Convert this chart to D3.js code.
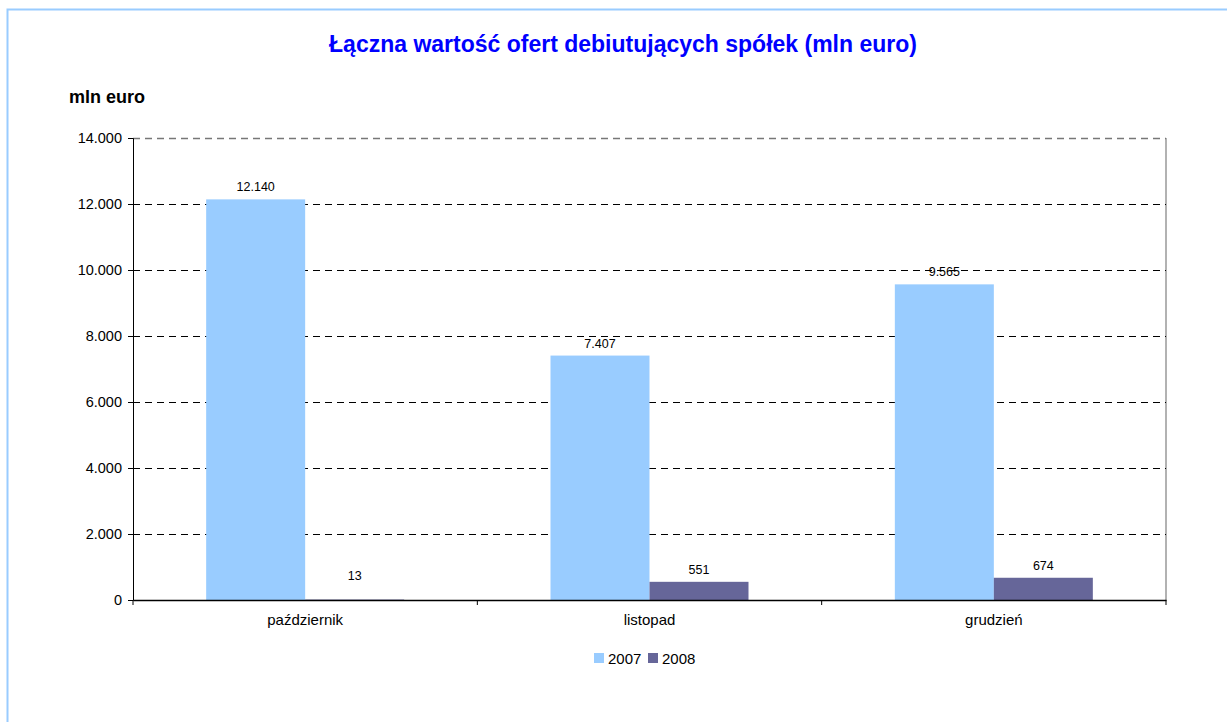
<!DOCTYPE html>
<html>
<head>
<meta charset="utf-8">
<script src="https://cdn.jsdelivr.net/npm/d3@7"></script>
<style>
  body { margin: 0; background: #fff; font-family: Arial, "Liberation Sans", sans-serif; }
</style>
</head>
<body>
<script>
// chart data
var months = ["październik", "listopad", "grudzień"];
var years = ["2007", "2008"];
var values2007 = [12140, 7407, 9565];
var values2008 = [13, 551, 674];
var yTicks = [0, 2000, 4000, 6000, 8000, 10000, 12000, 14000];
var colors = ["#99CCFF", "#666699"];

var w = 1227, h = 722;
var plotLeft = 133, plotRight = 1166, plotTop = 138, plotBottom = 600;

var svg = d3.select("body").append("svg")
    .attr("width", w)
    .attr("height", h);

// outer frame
svg.append("rect")
    .attr("x", 7.5).attr("y", 9.5)
    .attr("width", w).attr("height", h)
    .attr("fill", "none")
    .attr("stroke", "#99CCFF")
    .attr("stroke-width", 2);

// title
svg.append("text")
    .attr("x", 623).attr("y", 52)
    .attr("text-anchor", "middle")
    .attr("font-size", 23).attr("font-weight", "bold")
    .attr("fill", "#0000FF")
    .text("Łączna wartość ofert debiutujących spółek (mln euro)");

svg.append("text")
    .attr("x", 69).attr("y", 103)
    .attr("font-size", 18).attr("font-weight", "bold")
    .text("mln euro");

// scales
var x = d3.scaleBand().domain(months).range([plotLeft, plotRight]);
var xInner = d3.scaleBand().domain(years).range([0, 198]);
var y = d3.scaleLinear().domain([0, 14000]).range([plotBottom, plotTop]);

var fmt = function(v) { return d3.format(",")(v).replace(/,/g, "."); };

// plot border (grey)
svg.append("line")
    .attr("x1", plotRight).attr("x2", plotRight)
    .attr("y1", plotTop).attr("y2", plotBottom)
    .attr("stroke", "#999").attr("stroke-width", 1.5);

// gridlines
svg.selectAll(".grid")
    .data(yTicks.filter(function(d) { return d > 0; }))
    .enter().append("line")
    .attr("x1", plotLeft).attr("x2", plotRight)
    .attr("y1", function(d) { return Math.round(y(d)) + 0.5; })
    .attr("y2", function(d) { return Math.round(y(d)) + 0.5; })
    .attr("stroke", function(d) { return d === 14000 ? "#777" : "#000"; })
    .attr("stroke-width", function(d) { return d === 14000 ? 1.5 : 1; })
    .attr("stroke-dasharray", "7,5");

// bars
var series = [values2007, values2008];
years.forEach(function(yr, s) {
    var gap = (x.bandwidth() - 198) / 2;
    svg.selectAll(".bar" + yr)
        .data(series[s])
        .enter().append("rect")
        .attr("x", function(d, i) { return x(months[i]) + gap + xInner(yr); })
        .attr("y", function(d) { return y(d); })
        .attr("width", xInner.bandwidth())
        .attr("height", function(d) { return plotBottom - y(d); })
        .attr("fill", colors[s]);

    svg.selectAll(".lab" + yr)
        .data(series[s])
        .enter().append("text")
        .attr("x", function(d, i) { return x(months[i]) + gap + xInner(yr) + xInner.bandwidth() / 2; })
        .attr("y", function(d) { return Math.min(y(d), plotBottom - 12) - 8; })
        .attr("text-anchor", "middle")
        .attr("font-size", 12.5)
        .text(function(d) { return fmt(d); });
});

// y axis
var yAxis = d3.axisLeft(y).tickValues(yTicks).tickSize(5).tickPadding(6).tickFormat(fmt);
var gy = svg.append("g")
    .attr("transform", "translate(" + plotLeft + ",0)")
    .call(yAxis);
gy.select(".domain").attr("stroke", "#000");
gy.selectAll("text").attr("font-size", 14.5).attr("font-family", "Arial, 'Liberation Sans', sans-serif").attr("fill", "#000");

// x axis
var xAxis = d3.axisBottom(x).tickSize(0).tickPadding(14);
var gx = svg.append("g")
    .attr("transform", "translate(0," + plotBottom + ")")
    .call(xAxis);
gx.select(".domain").attr("stroke", "#000").attr("stroke-width", 1.5);
gx.selectAll("text").attr("font-size", 15).attr("font-family", "Arial, 'Liberation Sans', sans-serif").attr("fill", "#000");

// category boundary ticks
svg.selectAll(".xtick")
    .data([0, 1, 2, 3])
    .enter().append("line")
    .attr("x1", function(d) { return plotLeft + d * x.step(); })
    .attr("x2", function(d) { return plotLeft + d * x.step(); })
    .attr("y1", plotBottom).attr("y2", plotBottom + 5)
    .attr("stroke", "#000");

// legend
var legend = svg.append("g").attr("transform", "translate(594,653)");
years.forEach(function(yr, i) {
    var g = legend.append("g").attr("transform", "translate(" + (i * 54) + ",0)");
    g.append("rect").attr("width", 10).attr("height", 10).attr("fill", colors[i]);
    g.append("text").attr("x", 14).attr("y", 10.5).attr("font-size", 15).text(yr);
});
</script>
</body>
</html>
